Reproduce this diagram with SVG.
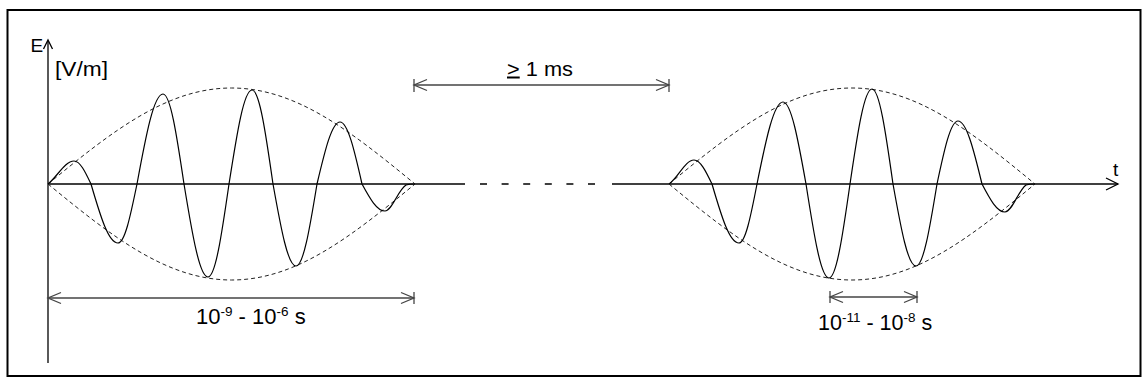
<svg xmlns="http://www.w3.org/2000/svg" width="1142" height="383" viewBox="0 0 1142 383">
<style>
.frame{fill:none;stroke:#000;stroke-width:2}
.axis{fill:none;stroke:#000;stroke-width:1.3}
.wave{fill:none;stroke:#000;stroke-width:1.2;stroke-linejoin:round}
.env{fill:none;stroke:#222;stroke-width:1;stroke-dasharray:4 3}
.dim{fill:none;stroke:#444;stroke-width:1.3}
.lbl{font-family:"Liberation Sans",Arial,sans-serif;fill:#000}
</style>
<rect class="frame" x="7.5" y="10" width="1133" height="366"/>
<g id="axes">
  <line class="axis" x1="48" y1="363" x2="48" y2="41"/>
  <polyline class="axis" points="43.5,49 48,40 52.5,49" stroke-width="1.6"/>
  <line class="axis" x1="48" y1="184" x2="465" y2="184"/>
  <line class="axis" x1="480" y1="184" x2="600" y2="184" stroke-dasharray="7 14.6"/>
  <line class="axis" x1="612" y1="184" x2="1118" y2="184"/>
  <polyline class="axis" points="1106,178 1118,184 1106,190" stroke-width="1.6"/>
</g>
<g id="pulse1">
  <path class="env" d="M48,184 C112.5,131 167,88 231.5,88 C296,88 350.5,131 415,184"/>
  <path class="env" d="M48,184 C112.5,237 167,280 231.5,280 C296,280 350.5,237 415,184"/>
  <path class="wave" d="M48,184 C57,177 64.9,161 74,161 C80,161 85,171.3 91,184 C100.5,216.6 108.5,243 118,243 C124.7,243 130.3,216.6 137,184 C146.1,134.3 153.9,94 163,94 C170.4,94 176.6,134.3 184,184 C192.4,235.3 199.6,277 208,277 C215.4,277 221.6,235.3 229,184 C237.1,132.1 243.9,90 252,90 C259.4,90 265.6,132.1 273,184 C281.1,229.3 287.9,266 296,266 C303.4,266 309.6,229.3 317,184 C325.1,149.8 331.9,122 340,122 C347.7,122 354.3,149.8 362,184 C370.1,198.9 376.9,211 385,211 C392,211 398,190 406,185 C409,184 412,184 415,184"/>
</g>
<g id="pulse2">
  <path class="env" d="M669,184 C733.3,131 787.7,88 852,88 C916.3,88 970.7,131 1035,184"/>
  <path class="env" d="M669,184 C733.3,237 787.7,280 852,280 C916.3,280 970.7,237 1035,184"/>
  <path class="wave" d="M669,184 C678,178 685.2,160 694,160 C700.3,160 705.7,170.8 712,184 C721.5,216.6 729.5,243 739,243 C745.3,243 750.7,216.6 757,184 C766.1,138.7 773.9,102 783,102 C791.1,102 797.9,138.7 806,184 C814.1,235.9 820.9,278 829,278 C836.4,278 842.6,235.9 850,184 C857.7,131.6 864.3,89 872,89 C879.4,89 885.6,131.6 893,184 C901.1,229.3 907.9,266 916,266 C923.4,266 929.6,229.3 937,184 C944.4,149.2 950.6,121 958,121 C966.4,121 973.6,149.2 982,184 C990.1,199.5 996.9,212 1005,212 C1012,212 1018,191 1026,185 C1029,184 1032,184 1035,184"/>
</g>
<g id="connectors">
  <g id="dim-gap">
    <line class="dim" x1="414" y1="85" x2="669" y2="85"/>
    <line class="dim" x1="414" y1="79" x2="414" y2="92"/>
    <line class="dim" x1="669" y1="79" x2="669" y2="92"/>
    <polyline class="dim" points="427,79.5 414,85 427,90.5"/>
    <polyline class="dim" points="656,79.5 669,85 656,90.5"/>
  </g>
  <g id="dim-pulse">
    <line class="dim" x1="48" y1="298" x2="414" y2="298"/>
    <line class="dim" x1="414" y1="292" x2="414" y2="304"/>
    <polyline class="dim" points="61,292.5 48,298 61,303.5"/>
    <polyline class="dim" points="401,292.5 414,298 401,303.5"/>
  </g>
  <g id="dim-period">
    <line class="dim" x1="830" y1="297" x2="917" y2="297"/>
    <line class="dim" x1="830" y1="291" x2="830" y2="303"/>
    <line class="dim" x1="917" y1="291" x2="917" y2="303"/>
    <polyline class="dim" points="843,291.5 830,297 843,302.5"/>
    <polyline class="dim" points="904,291.5 917,297 904,302.5"/>
  </g>
</g>
<g id="labels">
  <text class="lbl" x="30.5" y="51.5" font-size="19">E</text>
  <text class="lbl" x="55" y="75.5" font-size="20" textLength="53" lengthAdjust="spacingAndGlyphs">[V/m]</text>
  <text class="lbl" x="1113" y="175.5" font-size="19">t</text>
  <text class="lbl" x="507" y="75.5" font-size="20" textLength="66" lengthAdjust="spacingAndGlyphs"><tspan text-decoration="underline">&gt;</tspan> 1 ms</text>
  <text class="lbl" x="196" y="323.5" font-size="22">10<tspan font-size="13.5" dy="-7.5">-9</tspan><tspan dy="7.5"> - 10</tspan><tspan font-size="13.5" dy="-7.5">-6</tspan><tspan dy="7.5"> s</tspan></text>
  <text class="lbl" x="818" y="329.5" font-size="21.5">10<tspan font-size="13.5" dy="-7.5">-11</tspan><tspan dy="7.5"> - 10</tspan><tspan font-size="13.5" dy="-7.5">-8</tspan><tspan dy="7.5"> s</tspan></text>
</g>
</svg>
